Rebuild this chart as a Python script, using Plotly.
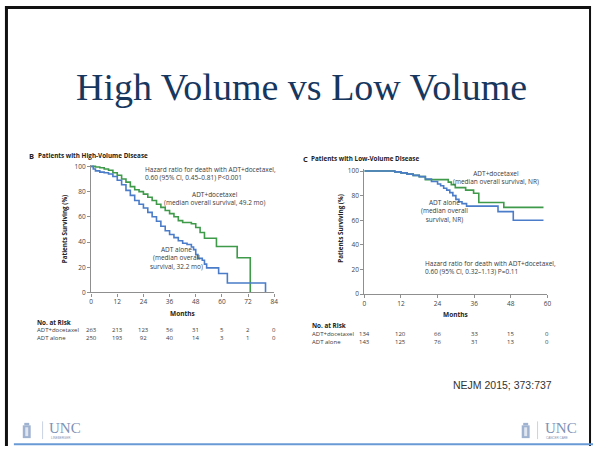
import plotly.graph_objects as go

W, H = 597, 450

# ---------------- data ----------------
hv_doc_months = [0, 2, 4, 6, 8, 10, 12, 14, 16, 18, 20, 22, 24, 26, 28, 30, 32, 34, 36, 38, 40, 42, 46, 48, 50, 52, 57.5, 67, 73]
hv_doc_surv = [100, 99.5, 99, 98, 97, 95, 93, 90, 87.5, 84, 81.5, 80, 78, 75.5, 73, 70, 67.5, 65, 62.5, 60, 57, 55.5, 54.5, 51.5, 47.5, 43, 36.5, 27.5, 0]

hv_adt_months = [0, 1, 2, 4, 6, 8, 10, 12, 14, 16, 18, 20, 22, 24, 26, 28, 30, 32, 34, 36, 38, 40, 42, 44, 46, 47, 48, 49, 51, 52, 53, 58.5, 62.5, 80]
hv_adt_surv = [100, 98, 96.5, 95.5, 95, 94, 92, 89, 85.5, 81, 77, 73, 70, 67, 63.5, 60, 56.5, 52.5, 49, 46, 43.5, 41, 39, 38, 36, 34, 30, 27, 25.5, 22.5, 19.5, 15, 7.5, 0]

lv_doc_months = [0, 10, 12, 14, 16, 18, 20, 27.5, 28.5, 29.8, 33.2, 35.8, 37.5, 45.7, 58.7]
lv_doc_surv = [100, 99.3, 98.5, 97.5, 96.5, 95.5, 93, 91, 89, 86.5, 84.5, 82, 74.5, 70.5, 70.5]

lv_adt_months = [0, 10, 12, 14, 16, 18, 20, 22, 24, 25, 26, 27, 28, 29, 30, 31, 32, 33.5, 43.8, 48.8, 58.7]
lv_adt_surv = [100, 99.3, 98.5, 97.5, 96.5, 95.5, 93.5, 91.5, 89.5, 88, 86, 84.5, 82.5, 80, 77, 75, 73.5, 71.5, 67, 60, 60]

hv_risk_months = [0, 12, 24, 36, 48, 60, 72, 84]
hv_risk_doc = [263, 213, 123, 56, 31, 5, 2, 0]
hv_risk_adt = [250, 193, 92, 40, 14, 3, 1, 0]

lv_risk_months = [0, 12, 24, 36, 48, 60]
lv_risk_doc = [134, 120, 66, 33, 15, 0]
lv_risk_adt = [143, 125, 76, 31, 13, 0]

risk_labels = ["ADT+docetaxel", "ADT alone"]

y_ticks = [0, 20, 40, 60, 80, 100]
hv_x_ticks = [0, 12, 24, 36, 48, 60, 72, 84]
lv_x_ticks = [0, 12, 24, 36, 48, 60]

GREEN = "#3f9a4a"
BLUE = "#4a7cc9"
AXIS = "#8f8f8f"
TXT = "#3a3a3a"
FONT = "Open Sans"


def px(x):
    return x / W


def py(y):
    return 1 - y / H


fig = go.Figure()

fig.add_trace(go.Scatter(x=hv_doc_months, y=hv_doc_surv, mode="lines", line=dict(color=GREEN, width=1.6, shape="hv"),
                         xaxis="x", yaxis="y", showlegend=False))
fig.add_trace(go.Scatter(x=hv_adt_months, y=hv_adt_surv, mode="lines", line=dict(color=BLUE, width=1.6, shape="hv"),
                         xaxis="x", yaxis="y", showlegend=False))
fig.add_trace(go.Scatter(x=lv_doc_months, y=lv_doc_surv, mode="lines", line=dict(color=GREEN, width=1.6, shape="hv"),
                         xaxis="x2", yaxis="y2", showlegend=False))
fig.add_trace(go.Scatter(x=lv_adt_months, y=lv_adt_surv, mode="lines", line=dict(color=BLUE, width=1.6, shape="hv"),
                         xaxis="x2", yaxis="y2", showlegend=False))

axis_common = dict(showline=True, linecolor=AXIS, linewidth=1.3, ticks="outside", ticklen=3, tickcolor=AXIS,
                   tickwidth=1, showgrid=False, zeroline=False, fixedrange=True,
                   tickfont=dict(family=FONT, size=6.5, color="#444"))

YMAX = 101.5
l_top = 294 - 1.28 * YMAX
r_top = 295.7 - 1.25 * YMAX

fig.update_layout(
    width=W, height=H, margin=dict(l=0, r=0, t=0, b=0),
    paper_bgcolor="white", plot_bgcolor="white",
    xaxis=dict(domain=[px(90), px(275)], range=[0, 84], tickvals=hv_x_ticks, anchor="y", **axis_common),
    yaxis=dict(domain=[py(294), py(l_top)], range=[0, YMAX], tickvals=y_ticks, anchor="x", **axis_common),
    xaxis2=dict(domain=[px(366), px(551)], range=[0, 60], tickvals=lv_x_ticks, anchor="y2", **axis_common),
    yaxis2=dict(domain=[py(295.7), py(r_top)], range=[0, YMAX], tickvals=y_ticks, anchor="x2", **axis_common),
)

anns = []


def note(text, x, y, size=6.5, xanchor="left", color=TXT, family=FONT, xref="paper", angle=0, align=None):
    anns.append(dict(text=text, x=(x if xref != "paper" else px(x)), y=py(y), xref=xref, yref="paper",
                     xanchor=xanchor, yanchor="middle", showarrow=False, textangle=angle,
                     align=align or ("center" if xanchor == "center" else xanchor),
                     font=dict(family=family, size=size, color=color)))


RS = 6.0  # risk table font size

# slide title
note("High Volume vs Low Volume", 303, 85, size=38, xanchor="center", color="#17375E", family="Liberation Serif")

# left panel texts
note("<b>B</b>", 25, 155, size=7.5, color="#222")
note("<b>Patients with High-Volume Disease</b>", 34, 155, size=6.3, color="#222")
note("<b>Patients Surviving (%)</b>", 63.5, 229, size=6.3, xanchor="center", angle=-90, color="#222")
note("Hazard ratio for death with ADT+docetaxel,<br>0.60 (95% CI, 0.45\u20130.81) P<0.001", 142.5, 173.6)
note("ADT+docetaxel<br>(median overall survival, 49.2 mo)", 215.5, 198.5, xanchor="center")
note("ADT alone<br>(median overall<br>survival, 32.2 mo)", 176, 258.8, xanchor="center")
note("<b>Months</b>", 42, 315, size=6.5, xanchor="center", xref="x", color="#222")
note("<b>No. at Risk</b>", 33, 325, size=6.3, color="#222")
note("<br>".join(risk_labels), 33, 336, size=RS)
for m, a, b in zip(hv_risk_months, hv_risk_doc, hv_risk_adt):
    note(f"{a}<br>{b}", m, 336, size=RS, xanchor="center", xref="x")

# right panel texts
note("<b>C</b>", 302, 158.3, size=7.5, color="#222")
note("<b>Patients with Low-Volume Disease</b>", 310.5, 158.3, size=6.3, color="#222")
note("<b>Patients Surviving (%)</b>", 341.7, 229, size=6.3, xanchor="center", angle=-90, color="#222")
note("ADT+docetaxel<br>(median overall survival, NR)", 499.5, 176.9, xanchor="center")
note("ADT alone<br>(median overall<br>survival, NR)", 446.7, 211.4, xanchor="center")
note("Hazard ratio for death with ADT+docetaxel,<br>0.60 (95% CI, 0.32\u20131.13) P=0.11", 425, 268.4)
note("<b>Months</b>", 30, 316.7, size=6.5, xanchor="center", xref="x2", color="#222")
note("<b>No. at Risk</b>", 310.7, 327.6, size=6.3, color="#222")
note("<br>".join(risk_labels), 310.7, 340, size=RS)
for m, a, b in zip(lv_risk_months, lv_risk_doc, lv_risk_adt):
    note(f"{a}<br>{b}", m, 340, size=RS, xanchor="center", xref="x2")

# citation
note("NEJM 2015; 373:737", 505.5, 388, size=10.5, xanchor="center", color="#333", family="Liberation Sans")

# logos (text parts)
LOGO = "#7d93b8"
note("UNC", 45, 432, size=15, color=LOGO, family="Liberation Serif")
note("LINEBERGER", 47, 441.5, size=3, color=LOGO, family="Liberation Sans")
note("UNC", 546, 432, size=15, color=LOGO, family="Liberation Serif")
note("CANCER CARE", 548, 441.5, size=3, color=LOGO, family="Liberation Sans")

fig.update_layout(annotations=anns)

shapes = []


def line(x0, y0, x1, y1, color, width):
    shapes.append(dict(type="line", xref="paper", yref="paper", x0=px(x0), y0=py(y0), x1=px(x1), y1=py(y1),
                       line=dict(color=color, width=width)))


def rect(x0, y0, x1, y1, color):
    shapes.append(dict(type="rect", xref="paper", yref="paper", x0=px(x0), y0=py(y0), x1=px(x1), y1=py(y1),
                       fillcolor=color, line=dict(width=0)))


# slide frame
line(4.5, 3, 4.5, 450, "#111", 3)
line(3, 4.5, 595, 4.5, "#111", 3)
line(594, 3, 594, 450, "#111", 2)
# bottom blue rule
line(12, 448.3, 597, 448.3, "#6a9ad6", 2)

# logo icons
for ix, sep in [(21, 41), (525, 541)]:
    rect(ix, 429, ix + 8, 442, "#9fb2cf")
    rect(ix + 1.5, 426.5, ix + 6.5, 429, "#9fb2cf")
    rect(ix + 2.5, 431, ix + 5.5, 440, "#dfe6f0")
    line(sep, 425, sep, 443, "#c9d3e2", 1)

fig.update_layout(shapes=shapes)

fig.write_html("out.html", config={"displayModeBar": False},
               post_script="document.body.style.margin='0';document.body.style.overflow='hidden';")
